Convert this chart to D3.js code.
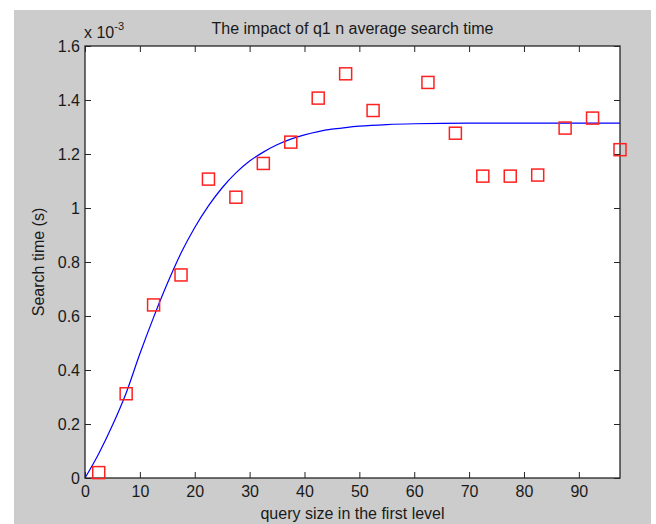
<!DOCTYPE html>
<html>
<head>
<meta charset="utf-8">
<script src="https://cdn.jsdelivr.net/npm/d3@7"></script>
<style>
  body { margin: 0; background: #fff; }
  text { font-family: "Liberation Sans", Arial, sans-serif; fill: #1a1a1a; }
</style>
</head>
<body>
<script>

// measured search times (x 10^-3 s)
const queryX = [2.5, 7.5, 12.5, 17.5, 22.5, 27.5, 32.5, 37.5, 42.5, 47.5, 52.5,
                62.5, 67.5, 72.5, 77.5, 82.5, 87.5, 92.5, 97.5];
const searchY = [0.02, 0.312, 0.641, 0.752, 1.107, 1.04, 1.165, 1.244, 1.407, 1.497, 1.361,
                 1.465, 1.277, 1.118, 1.118, 1.122, 1.296, 1.333, 1.216];

// fitted curve
const fitX = [0, 2.5, 5, 7.5, 10, 12.5, 15, 17.5, 20, 22.5, 25, 27.5, 30, 32.5, 35,
              37.5, 40, 42.5, 45, 47.5, 50, 55, 60, 70, 80, 97.5];
const fitY = [0, 0.09, 0.195, 0.315, 0.46, 0.595, 0.72, 0.833, 0.928, 1.008, 1.075, 1.13, 1.174, 1.207, 1.234,
              1.255, 1.271, 1.283, 1.292, 1.298, 1.303, 1.309, 1.312, 1.314, 1.314, 1.314];

const xTicks = [0, 10, 20, 30, 40, 50, 60, 70, 80, 90];
const yTicks = [0, 0.2, 0.4, 0.6, 0.8, 1.0, 1.2, 1.4, 1.6];
const yTickLabels = ["0", "0.2", "0.4", "0.6", "0.8", "1", "1.2", "1.4", "1.6"];

const width = 656, height = 524;
const m = { left: 85, right: 620, top: 46, bottom: 478 };

const svg = d3.select("body").append("svg")
    .attr("width", width)
    .attr("height", height);

// figure background
svg.append("rect")
    .attr("x", 14).attr("y", 10)
    .attr("width", 637).attr("height", height - 10)
    .attr("fill", "#cccccc");

svg.append("rect")
    .attr("x", m.left).attr("y", m.top)
    .attr("width", m.right - m.left).attr("height", m.bottom - m.top)
    .attr("fill", "#fff");

const x = d3.scaleLinear().domain([0, 97.5]).range([m.left, m.right]);
const y = d3.scaleLinear().domain([0, 1.6]).range([m.bottom, m.top]);

function styleAxis(g) {
    g.select(".domain").remove();
    g.selectAll(".tick line").attr("stroke", "#262626");
    g.selectAll("text").style("font-size", "16px").attr("fill", "#1a1a1a");
}

svg.append("g")
    .attr("transform", `translate(0,${m.bottom})`)
    .call(d3.axisBottom(x).tickValues(xTicks).tickSizeInner(-6).tickSizeOuter(0).tickPadding(8))
    .call(styleAxis);

svg.append("g")
    .attr("transform", `translate(0,${m.top})`)
    .call(d3.axisTop(x).tickValues(xTicks).tickSizeInner(-6).tickSizeOuter(0).tickFormat(""))
    .call(styleAxis);

svg.append("g")
    .attr("transform", `translate(${m.left},0)`)
    .call(d3.axisLeft(y).tickValues(yTicks).tickSizeInner(-6).tickSizeOuter(0).tickPadding(5)
        .tickFormat((d, i) => yTickLabels[i]))
    .call(styleAxis);

svg.append("g")
    .attr("transform", `translate(${m.right},0)`)
    .call(d3.axisRight(y).tickValues(yTicks).tickSizeInner(-6).tickSizeOuter(0).tickFormat(""))
    .call(styleAxis);

// fitted line
const line = d3.line().x((d, i) => x(fitX[i])).y(d => y(d)).curve(d3.curveMonotoneX);
svg.append("path")
    .datum(fitY)
    .attr("d", line)
    .attr("fill", "none")
    .attr("stroke", "#0000ff")
    .attr("stroke-width", 1.2);

// box
svg.append("rect")
    .attr("x", m.left).attr("y", m.top)
    .attr("width", m.right - m.left).attr("height", m.bottom - m.top)
    .attr("fill", "none")
    .attr("stroke", "#262626")
    .attr("stroke-width", 1.3);

// markers
const sq = 12;
svg.selectAll(".pt")
    .data(searchY)
    .enter().append("rect")
    .attr("class", "pt")
    .attr("x", (d, i) => x(queryX[i]) - sq / 2)
    .attr("y", d => y(d) - sq / 2)
    .attr("width", sq).attr("height", sq)
    .attr("fill", "none")
    .attr("stroke", "#ff2020")
    .attr("stroke-width", 1.5);

// texts
svg.append("text")
    .attr("x", (m.left + m.right) / 2).attr("y", 34)
    .attr("text-anchor", "middle")
    .style("font-size", "16px")
    .text("The impact of q1 n average search time");

const mult = svg.append("text")
    .attr("x", 84).attr("y", 38)
    .style("font-size", "16px");
mult.append("tspan").text("x 10");
mult.append("tspan").attr("dy", -8).style("font-size", "11px").text("-3");

svg.append("text")
    .attr("x", (m.left + m.right) / 2).attr("y", 519)
    .attr("text-anchor", "middle")
    .style("font-size", "16px")
    .text("query size in the first level");

svg.append("text")
    .attr("transform", `translate(44,${(m.top + m.bottom) / 2}) rotate(-90)`)
    .attr("text-anchor", "middle")
    .style("font-size", "16px")
    .text("Search time (s)");

</script>
</body>
</html>
